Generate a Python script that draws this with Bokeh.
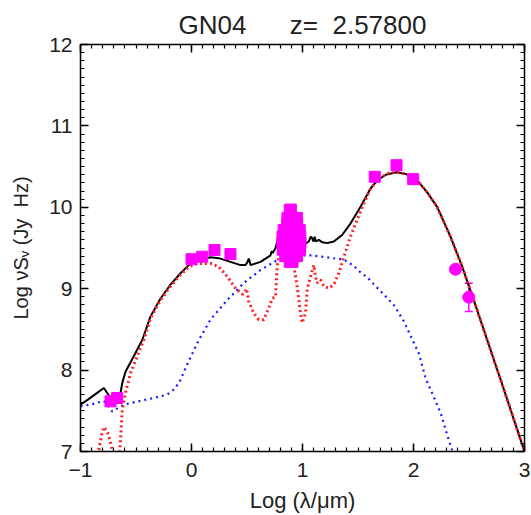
from bokeh.plotting import figure
from bokeh.models import (Range1d, LinearAxis, SingleIntervalTicker, Title,
                          ColumnDataSource, Whisker, TeeHead)
from bokeh.embed import file_html
from bokeh.resources import INLINE

# ---------------- data ----------------
# total model (black solid)
tot_x = [-1.0, -0.93, -0.85, -0.79, -0.75, -0.71, -0.67, -0.655, -0.624, -0.595,
         -0.52, -0.444, -0.369, -0.279, -0.189, -0.099, -0.024, 0.051, 0.171,
         0.261, 0.351, 0.441, 0.486, 0.505, 0.516, 0.525, 0.532, 0.622, 0.712,
         0.722, 0.732, 0.757, 0.772, 0.80, 0.85, 0.90, 0.95, 0.99, 1.012, 1.057,
         1.075, 1.087, 1.10, 1.11, 1.12, 1.147, 1.18, 1.222, 1.282, 1.357, 1.432,
         1.523, 1.613, 1.673, 1.75, 1.847, 1.93, 2.033, 2.12, 2.213, 2.333, 2.439,
         2.543, 2.664, 2.80, 2.90, 3.0]
tot_y = [7.576, 7.64, 7.72, 7.78, 7.70, 7.62, 7.59, 7.60, 7.84, 7.98,
         8.17, 8.37, 8.66, 8.88, 9.05, 9.19, 9.29, 9.35, 9.386,
         9.37, 9.33, 9.29, 9.29, 9.33, 9.37, 9.33, 9.29, 9.33, 9.41,
         9.46, 9.44, 9.50, 9.58, 9.62, 9.65, 9.63, 9.57, 9.53, 9.54, 9.58,
         9.64, 9.62, 9.58, 9.64, 9.58, 9.60, 9.57, 9.56, 9.58, 9.66, 9.80,
         10.006, 10.23, 10.33, 10.40, 10.43, 10.41, 10.33, 10.19, 10.006, 9.64, 9.27,
         8.86, 8.37, 7.82, 7.41, 7.0]

# starburst component (red dotted)
sb_x = [-0.86, -0.835, -0.81, -0.79, -0.765, -0.745, -0.725, -0.714, -0.70,
        -0.66, -0.645, -0.624, -0.595, -0.55, -0.489, -0.43, -0.369, -0.279,
        -0.189, -0.099, -0.024, 0.051, 0.171, 0.246, 0.321, 0.396, 0.46, 0.48,
        0.495, 0.505, 0.516, 0.561, 0.606, 0.651, 0.696, 0.727, 0.757, 0.772,
        0.79, 0.83, 0.87, 0.90, 0.922, 0.952, 0.982, 0.997, 1.027, 1.042, 1.072,
        1.102, 1.117, 1.132, 1.162, 1.192, 1.237, 1.282, 1.327, 1.372, 1.432,
        1.523, 1.613, 1.703, 1.78, 1.847, 1.93, 2.033, 2.12, 2.213, 2.333,
        2.439, 2.543, 2.664, 2.80, 2.90, 3.0]
sb_y = [6.9, 7.02, 7.2, 7.30, 7.26, 7.19, 7.08, 7.02, 6.9,
        6.9, 7.02, 7.51, 7.72, 7.96, 8.17, 8.37, 8.64, 8.86,
        9.03, 9.17, 9.27, 9.31, 9.31, 9.27, 9.15, 9.006, 8.93, 8.96,
        9.0, 8.93, 8.84, 8.70, 8.62, 8.62, 8.76, 8.88, 8.90, 9.27,
        9.45, 9.50, 9.45, 9.38, 9.27, 9.03, 8.70, 8.58, 8.70, 8.99, 9.15,
        9.29, 9.15, 9.07, 9.11, 9.03, 9.006, 9.05, 9.19, 9.39, 9.64,
        9.95, 10.23, 10.37, 10.42, 10.43, 10.41, 10.33, 10.19, 10.006, 9.64,
        9.27, 8.86, 8.37, 7.82, 7.41, 7.0]

# AGN component (blue dotted)
agn_x = [-1.0, -0.9, -0.79, -0.745, -0.714, -0.68, -0.61, -0.5, -0.399, -0.3,
         -0.219, -0.15, -0.099, -0.039, 0.066, 0.171, 0.321, 0.471, 0.622, 0.772,
         0.88, 0.982, 1.08, 1.192, 1.30, 1.372, 1.462, 1.523, 1.583, 1.703,
         1.823, 1.913, 1.988, 2.05, 2.108, 2.18, 2.245, 2.30, 2.351, 2.40]
agn_y = [7.555, 7.58, 7.62, 7.55, 7.49, 7.52, 7.576, 7.61, 7.64, 7.67,
         7.70, 7.77, 7.88, 8.07, 8.37, 8.62, 8.86, 9.07, 9.23, 9.35,
         9.40, 9.41, 9.41, 9.39, 9.37, 9.36, 9.28, 9.20, 9.14, 8.97,
         8.80, 8.60, 8.38, 8.20, 7.90, 7.68, 7.47, 7.22, 7.0, 6.8]

# photometry (squares)
phot_x = [-0.730, -0.670, 0.0, 0.096, 0.207, 0.351, 1.651, 1.847, 1.997]
phot_y = [7.616, 7.658, 9.362, 9.393, 9.475, 9.426, 10.374, 10.517, 10.346]

# IRS spectrum points (squares, dense cluster)
irs_x = [0.885, 0.895,
         0.865, 0.905, 0.950,
         0.862, 0.900, 0.952,
         0.830, 0.870, 0.910, 0.950, 0.975,
         0.820, 0.860, 0.900, 0.940, 0.980,
         0.818, 0.858, 0.898, 0.938, 0.982,
         0.822, 0.862, 0.902, 0.942, 0.978,
         0.845, 0.885, 0.925, 0.950,
         0.885, 0.910]
irs_y = [9.97, 9.97,
         9.87, 9.87, 9.87,
         9.80, 9.80, 9.80,
         9.72, 9.72, 9.72, 9.72, 9.72,
         9.64, 9.64, 9.64, 9.64, 9.64,
         9.56, 9.56, 9.56, 9.56, 9.56,
         9.48, 9.48, 9.48, 9.48, 9.48,
         9.40, 9.40, 9.40, 9.40,
         9.33, 9.33]

# (sub)mm points (circles) with errors
mm_x = [2.378, 2.498]
mm_y = [9.239, 8.896]
mm_lo = [9.239, 8.72]
mm_hi = [9.239, 9.067]

x_tick_labels = {-1: "\u22121", 0: "0", 1: "1", 2: "2", 3: "3"}
title_text = "GN04\u00a0\u00a0\u00a0\u00a0\u00a0\u00a0z=\u00a0\u00a02.57800"
x_title = "Log (\u03bb/\u03bcm)"
y_title = "Log \u03bdS\u1d65 (Jy\u00a0\u00a0Hz)"

# ---------------- figure ----------------
FONT = "Liberation Sans"
TXT = "#222222"
p = figure(width=531, height=515, x_range=Range1d(-1, 3), y_range=Range1d(7, 12),
           x_axis_type=None, y_axis_type=None, title=None,
           output_backend="svg", toolbar_location=None,
           min_border_left=80, min_border_right=7, min_border_top=44,
           min_border_bottom=63)
p.outline_line_color = None
p.background_fill_color = "white"
p.border_fill_color = "white"


def make_axis(show):
    ax = LinearAxis(ticker=SingleIntervalTicker(interval=1, num_minor_ticks=10))
    ax.axis_line_width = 1.5
    ax.axis_line_color = "black"
    ax.major_tick_in = 8
    ax.major_tick_out = 0
    ax.minor_tick_in = 4
    ax.minor_tick_out = 0
    ax.major_tick_line_width = 1.5
    ax.minor_tick_line_width = 1.2
    ax.major_tick_line_color = "black"
    ax.minor_tick_line_color = "black"
    if show:
        ax.major_label_text_font = FONT
        ax.major_label_text_font_size = "21px"
        ax.major_label_text_color = TXT
        ax.axis_label_text_font = FONT
        ax.axis_label_text_font_style = "normal"
        ax.axis_label_text_color = TXT
    else:
        ax.major_label_text_font_size = "0px"
        ax.major_label_text_color = None
        ax.major_label_standoff = 0
    return ax


xb = make_axis(True)
xb.major_label_standoff = 11
xb.major_label_overrides = x_tick_labels
xb.axis_label = x_title
xb.axis_label_text_font_size = "22px"
xb.axis_label_standoff = 8

yl = make_axis(True)
yl.major_label_standoff = 8
yl.axis_label = y_title
yl.axis_label_text_font_size = "20px"
yl.axis_label_standoff = 14

p.add_layout(xb, "below")
p.add_layout(yl, "left")
p.add_layout(make_axis(False), "above")
p.add_layout(make_axis(False), "right")

p.add_layout(Title(text=title_text, align="center", text_font=FONT,
                   text_font_size="26px", text_font_style="normal",
                   text_color=TXT, standoff=10), "above")

# curves
p.line(agn_x, agn_y, line_color="#1a1aff", line_width=2.2, line_dash="2 4")
p.line(tot_x, tot_y, line_color="black", line_width=2)
p.line(sb_x, sb_y, line_color="#ff2020", line_width=3, line_dash="2 3")

# points
MAG = "#ff00ff"
p.scatter(irs_x, irs_y, marker="square", size=11, fill_color=MAG, line_color=MAG)
p.scatter(phot_x, phot_y, marker="square", size=11, fill_color=MAG, line_color=MAG)
src = ColumnDataSource(dict(x=mm_x, lo=mm_lo, hi=mm_hi))
p.add_layout(Whisker(source=src, base="x", lower="lo", upper="hi",
                     line_color=MAG, line_width=1.5,
                     lower_head=TeeHead(size=8, line_color=MAG, line_width=1.5),
                     upper_head=TeeHead(size=8, line_color=MAG, line_width=1.5)))
p.scatter(mm_x, mm_y, marker="circle", size=12, fill_color=MAG, line_color=MAG)

open("out.html", "w").write(file_html(p, INLINE))
